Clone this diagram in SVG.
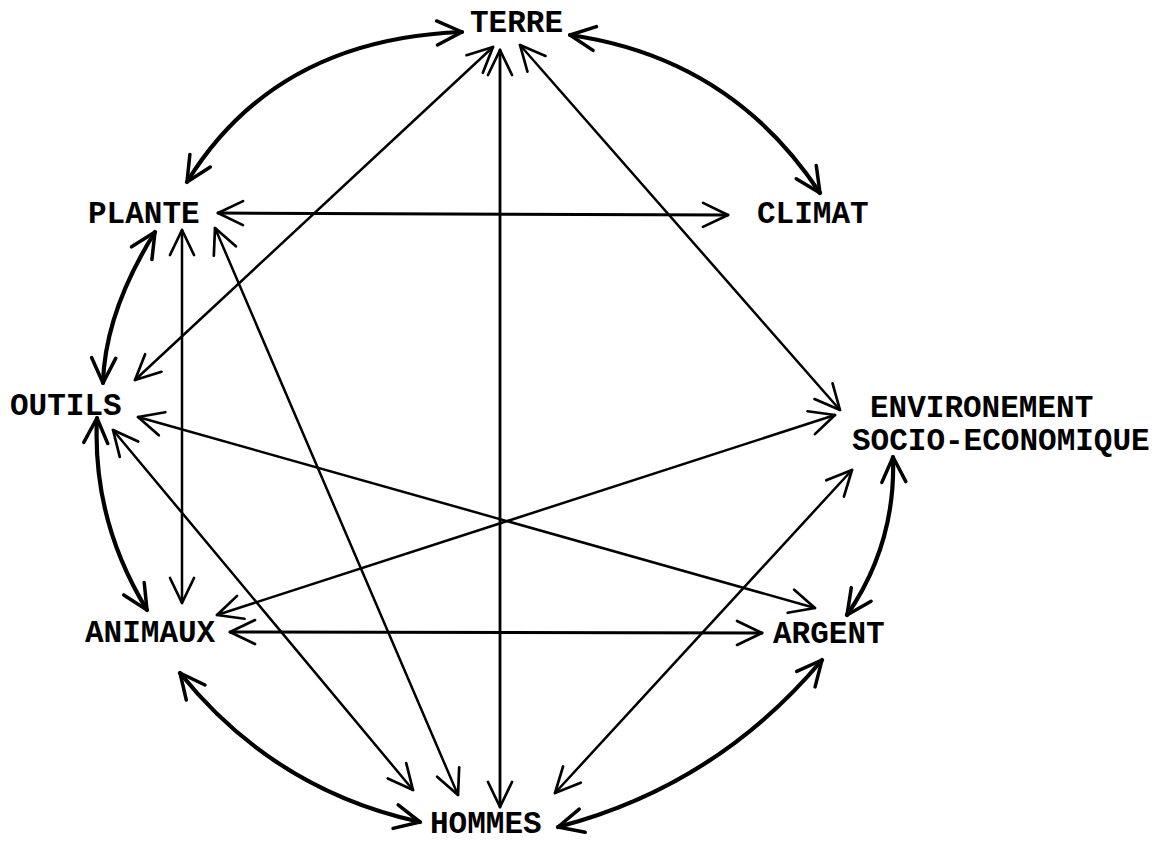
<svg xmlns="http://www.w3.org/2000/svg" width="1175" height="843" viewBox="0 0 1175 843">
<style>
.lbl{font-family:"Liberation Mono","Courier New",monospace;font-weight:bold;font-size:31px;fill:#000}
.thin{fill:none;stroke:#000;stroke-width:2.5;stroke-linecap:round;marker-start:url(#ah);marker-end:url(#ah)}
.thick{fill:none;stroke:#000;stroke-width:4.2;stroke-linecap:round;marker-start:url(#ahk);marker-end:url(#ahk)}
</style>
<defs>
<marker id="ah" viewBox="0 0 30 30" refX="28" refY="15" markerWidth="30" markerHeight="30" markerUnits="userSpaceOnUse" orient="auto-start-reverse">
<path d="M3,3 L28,15 L3,27" fill="none" stroke="#000" stroke-width="2.7" stroke-linecap="round" stroke-linejoin="round"/>
</marker>
<marker id="ahk" viewBox="0 0 30 30" refX="28" refY="15" markerWidth="30" markerHeight="30" markerUnits="userSpaceOnUse" orient="auto-start-reverse">
<path d="M3,3 L28,15 L3,27" fill="none" stroke="#000" stroke-width="3.5" stroke-linecap="round" stroke-linejoin="round"/>
</marker>
</defs>
<rect width="1175" height="843" fill="#fff"/>
<g id="connectors">
<path class="thick" d="M462,32 Q275,39 187,182"/>
<path class="thick" d="M570,35 Q731,58 820,193"/>
<path class="thin" style="stroke-width:3" d="M218,213 L728,215"/>
<path class="thin" d="M493,47 L135,380"/>
<path class="thin" style="stroke-width:2.8" d="M500,50 L500,807"/>
<path class="thin" d="M520,45 L840,410"/>
<path class="thick" d="M155,232 Q105,312 103,383"/>
<path class="thin" d="M182,230 L182,603"/>
<path class="thin" d="M215,228 L458,795"/>
<path class="thin" d="M138,417 L815,608"/>
<path class="thick" d="M97,418 Q92,520 147,610"/>
<path class="thin" d="M113,430 L413,790"/>
<path class="thin" d="M217,615 L835,415"/>
<path class="thin" style="stroke-width:3" d="M230,632 L762,633"/>
<path class="thick" d="M180,673 Q274,790 420,822"/>
<path class="thin" d="M852,470 L555,793"/>
<path class="thick" d="M893,457 Q896,544 847,615"/>
<path class="thick" d="M822,660 Q716,786 558,827"/>
</g>
<g id="terre"><text class="lbl" x="470" y="32">TERRE</text></g>
<g id="plante"><text class="lbl" x="88" y="223">PLANTE</text></g>
<g id="climat"><text class="lbl" x="757" y="223">CLIMAT</text></g>
<g id="outils"><text class="lbl" x="10" y="415">OUTILS</text></g>
<g id="environnement"><text class="lbl" x="870" y="417">ENVIRONEMENT</text><text class="lbl" x="852" y="450">SOCIO-ECONOMIQUE</text></g>
<g id="animaux"><text class="lbl" x="85" y="642">ANIMAUX</text></g>
<g id="argent"><text class="lbl" x="773" y="643">ARGENT</text></g>
<g id="hommes"><text class="lbl" x="430" y="833">HOMMES</text></g>
</svg>
